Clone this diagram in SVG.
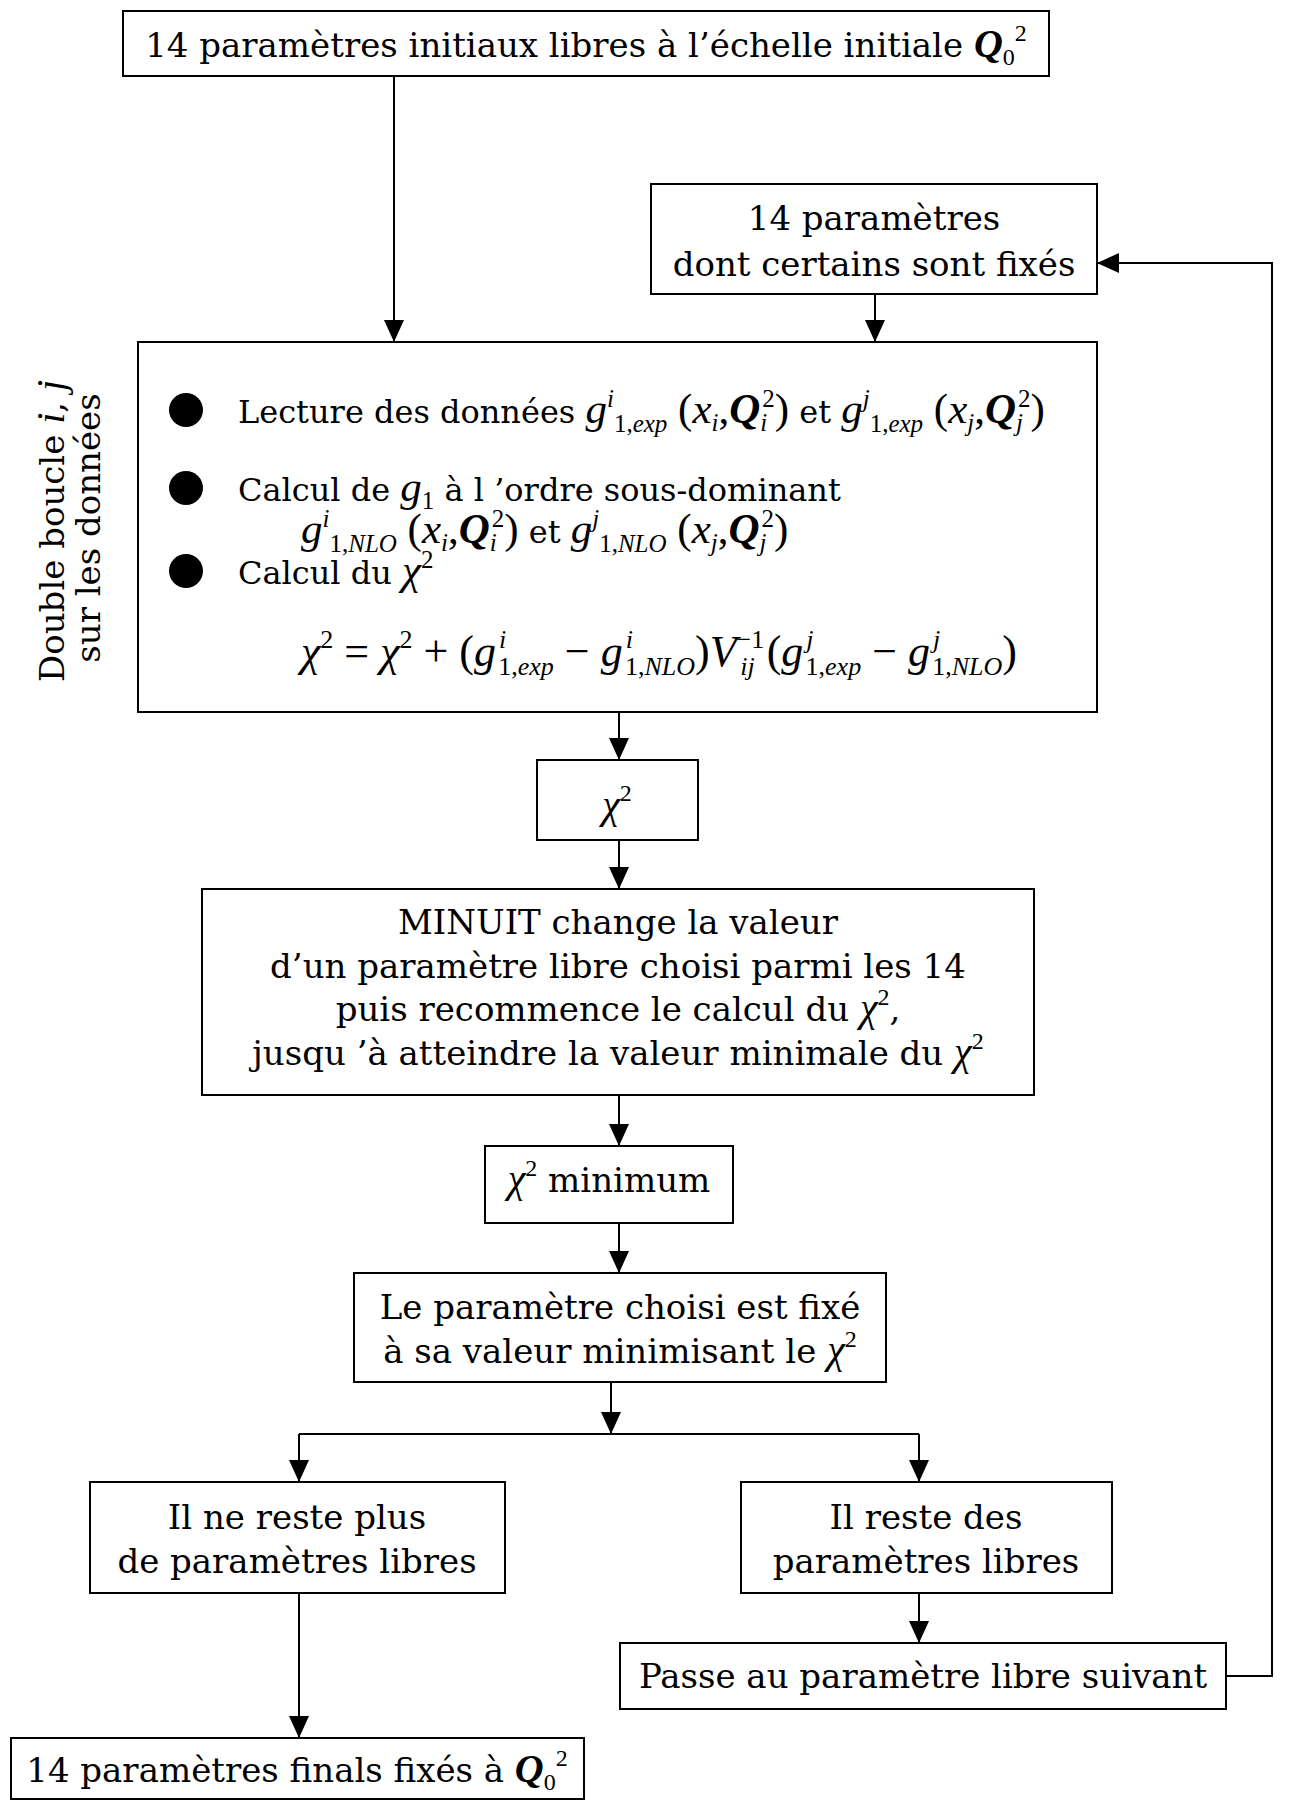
<svg xmlns="http://www.w3.org/2000/svg" width="1297" height="1801" viewBox="0 0 1297 1801">
<defs>
<marker id="ah" viewBox="0 0 22 20" refX="22" refY="10" markerWidth="22" markerHeight="20" markerUnits="userSpaceOnUse" orient="auto"><path d="M0,0 L22,10 L0,20 z" fill="#000"/></marker>
<style>
.box{fill:#fff;stroke:#000;stroke-width:2}
.t{font-family:"DejaVu Serif","Liberation Serif",serif;font-size:34px;fill:#000}
.tm{font-size:32px}
.c{text-anchor:middle}
.m{font-family:"Liberation Serif",serif;font-style:italic;font-size:40px}
.r{font-family:"Liberation Serif",serif;font-size:40px}
.q{font-family:"Liberation Serif",serif;font-style:italic;font-weight:bold;font-size:40px}
.s{font-size:24px}
.big .m,.big .r,.big .q{font-size:43px}
.big .s{font-size:25px}
.f{font-family:"Liberation Serif",serif;font-size:44px}
.fs{font-size:26px}
.con{fill:none;stroke:#000;stroke-width:2}
</style>
</defs>
<rect width="1297" height="1801" fill="#fff"/>
<g id="connectors">
<path class="con" d="M394,76 V342" marker-end="url(#ah)"/>
<path class="con" d="M875,294 V342" marker-end="url(#ah)"/>
<path class="con" d="M619,712 V760" marker-end="url(#ah)"/>
<path class="con" d="M619,840 V889" marker-end="url(#ah)"/>
<path class="con" d="M619,1095 V1146" marker-end="url(#ah)"/>
<path class="con" d="M619,1223 V1273" marker-end="url(#ah)"/>
<path class="con" d="M611,1382 V1434" marker-end="url(#ah)"/>
<path class="con" d="M299,1434 H919"/>
<path class="con" d="M299,1434 V1482" marker-end="url(#ah)"/>
<path class="con" d="M919,1434 V1482" marker-end="url(#ah)"/>
<path class="con" d="M299,1593 V1738" marker-end="url(#ah)"/>
<path class="con" d="M919,1593 V1643" marker-end="url(#ah)"/>
<path class="con" d="M1226,1676 H1272 V263 H1097" marker-end="url(#ah)"/>
</g>
<g id="n_init">
<rect class="box" x="123" y="11" width="926" height="65"/>
<text class="t c" x="586" y="57">14 paramètres initiaux libres à l’échelle initiale <tspan class="q">Q</tspan><tspan class="r s" dy="8">0</tspan><tspan class="r s" dy="-24">2</tspan></text>
</g>
<g id="n_fixed">
<rect class="box" x="651" y="184" width="446" height="110"/>
<text class="t c" x="874" y="230">14 paramètres</text>
<text class="t c" x="874" y="276">dont certains sont fixés</text>
</g>
<g id="n_label">
<text class="t c" font-size="33" transform="translate(64,531) rotate(-90)">Double boucle <tspan class="m" font-size="36">i</tspan>, <tspan class="m" font-size="36">j</tspan></text>
<text class="t c" font-size="33" transform="translate(100,528) rotate(-90)">sur les données</text>
</g>
<g id="n_loop">
<rect class="box" x="138" y="342" width="959" height="370"/>
<circle cx="186" cy="410" r="17"/>
<circle cx="186" cy="488" r="17"/>
<circle cx="186" cy="571" r="17"/>
<text class="t tm big" x="238" y="423">Lecture des données <tspan class="m">g</tspan><tspan class="m s" dy="-16">i</tspan><tspan class="r s" dy="25">1,</tspan><tspan class="m s">exp</tspan><tspan class="r" dy="-9"> (</tspan><tspan class="m">x</tspan><tspan class="m s" dy="8">i</tspan><tspan class="r" dy="-8">,</tspan><tspan class="q">Q</tspan><tspan class="m s" dy="8">i</tspan><tspan class="r s" dx="-5" dy="-24">2</tspan><tspan class="r" dy="16">)</tspan> et <tspan class="m">g</tspan><tspan class="m s" dy="-16">j</tspan><tspan class="r s" dy="25">1,</tspan><tspan class="m s">exp</tspan><tspan class="r" dy="-9"> (</tspan><tspan class="m">x</tspan><tspan class="m s" dy="8">j</tspan><tspan class="r" dy="-8">,</tspan><tspan class="q">Q</tspan><tspan class="m s" dy="8">j</tspan><tspan class="r s" dx="-5" dy="-24">2</tspan><tspan class="r" dy="16">)</tspan></text>
<text class="t tm big" x="238" y="501">Calcul de <tspan class="m">g</tspan><tspan class="r s" dy="8">1</tspan><tspan dy="-8"> à l ’ordre sous-dominant</tspan></text>
<text class="t tm big" x="301" y="543"><tspan class="m">g</tspan><tspan class="m s" dy="-16">i</tspan><tspan class="r s" dy="25">1,</tspan><tspan class="m s">NLO</tspan><tspan class="r" dy="-9"> (</tspan><tspan class="m">x</tspan><tspan class="m s" dy="8">i</tspan><tspan class="r" dy="-8">,</tspan><tspan class="q">Q</tspan><tspan class="m s" dy="8">i</tspan><tspan class="r s" dx="-5" dy="-24">2</tspan><tspan class="r" dy="16">)</tspan> et <tspan class="m">g</tspan><tspan class="m s" dy="-16">j</tspan><tspan class="r s" dy="25">1,</tspan><tspan class="m s">NLO</tspan><tspan class="r" dy="-9"> (</tspan><tspan class="m">x</tspan><tspan class="m s" dy="8">j</tspan><tspan class="r" dy="-8">,</tspan><tspan class="q">Q</tspan><tspan class="m s" dy="8">j</tspan><tspan class="r s" dx="-5" dy="-24">2</tspan><tspan class="r" dy="16">)</tspan></text>
<text class="t tm big" x="238" y="584">Calcul du <tspan class="m">χ</tspan><tspan class="r s" dy="-16">2</tspan></text>
<text class="f" x="301" y="666"><tspan font-style="italic">χ</tspan><tspan class="fs" dy="-18">2</tspan><tspan dy="18"> = </tspan><tspan font-style="italic">χ</tspan><tspan class="fs" dy="-18">2</tspan><tspan dy="18"> + (</tspan><tspan font-style="italic">g</tspan><tspan class="fs" font-style="italic" dy="-18" dx="3">i</tspan><tspan class="fs" dx="-8" dy="27">1,</tspan><tspan class="fs" font-style="italic">exp</tspan><tspan dy="-9"> − </tspan><tspan font-style="italic">g</tspan><tspan class="fs" font-style="italic" dy="-18" dx="3">i</tspan><tspan class="fs" dx="-8" dy="27">1,</tspan><tspan class="fs" font-style="italic">NLO</tspan><tspan dy="-9">)</tspan><tspan font-style="italic">V</tspan><tspan class="fs" dy="-18">−1</tspan><tspan class="fs" font-style="italic" dx="-24" dy="27">ij</tspan><tspan dx="12" dy="-9">(</tspan><tspan font-style="italic">g</tspan><tspan class="fs" font-style="italic" dy="-18" dx="3">j</tspan><tspan class="fs" dx="-8" dy="27">1,</tspan><tspan class="fs" font-style="italic">exp</tspan><tspan dy="-9"> − </tspan><tspan font-style="italic">g</tspan><tspan class="fs" font-style="italic" dy="-18" dx="3">j</tspan><tspan class="fs" dx="-8" dy="27">1,</tspan><tspan class="fs" font-style="italic">NLO</tspan><tspan dy="-9">)</tspan></text>
</g>
<g id="n_chi2">
<rect class="box" x="537" y="760" width="161" height="80"/>
<text class="c" x="617" y="818"><tspan class="m" font-size="42">χ</tspan><tspan class="r s" dy="-17">2</tspan></text>
</g>
<g id="n_minuit">
<rect class="box" x="202" y="889" width="832" height="206"/>
<text class="t c" x="618" y="934">MINUIT change la valeur</text>
<text class="t c" x="618" y="978">d’un paramètre libre choisi parmi les 14</text>
<text class="t c" x="618" y="1021">puis recommence le calcul du <tspan class="m">χ</tspan><tspan class="r s" dy="-16">2</tspan><tspan dy="16">,</tspan></text>
<text class="t c" x="618" y="1065">jusqu ’à atteindre la valeur minimale du <tspan class="m">χ</tspan><tspan class="r s" dy="-16">2</tspan></text>
</g>
<g id="n_chimin">
<rect class="box" x="485" y="1146" width="248" height="77"/>
<text class="t c" x="609" y="1192"><tspan class="m">χ</tspan><tspan class="r s" dy="-16">2</tspan><tspan dy="16"> minimum</tspan></text>
</g>
<g id="n_fix">
<rect class="box" x="354" y="1273" width="532" height="109"/>
<text class="t c" x="620" y="1319">Le paramètre choisi est fixé</text>
<text class="t c" x="620" y="1363">à sa valeur minimisant le <tspan class="m">χ</tspan><tspan class="r s" dy="-16">2</tspan></text>
</g>
<g id="n_none">
<rect class="box" x="90" y="1482" width="415" height="111"/>
<text class="t c" x="297" y="1529">Il ne reste plus</text>
<text class="t c" x="297" y="1573">de paramètres libres</text>
</g>
<g id="n_some">
<rect class="box" x="741" y="1482" width="371" height="111"/>
<text class="t c" x="926" y="1529">Il reste des</text>
<text class="t c" x="926" y="1573">paramètres libres</text>
</g>
<g id="n_next">
<rect class="box" x="620" y="1643" width="606" height="66"/>
<text class="t c" x="923" y="1688">Passe au paramètre libre suivant</text>
</g>
<g id="n_final">
<rect class="box" x="11" y="1738" width="573" height="61"/>
<text class="t c" x="297" y="1782">14 paramètres finals fixés à <tspan class="q">Q</tspan><tspan class="r s" dy="8">0</tspan><tspan class="r s" dy="-24">2</tspan></text>
</g>
</svg>
